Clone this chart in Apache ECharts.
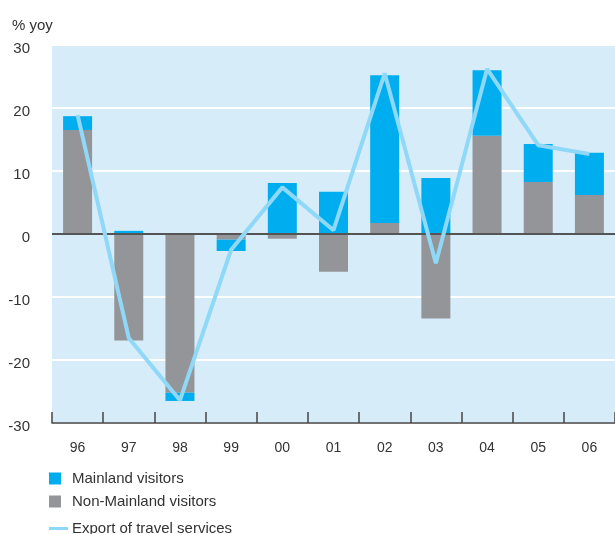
<!DOCTYPE html>
<html>
<head>
<meta charset="utf-8">
<script src="https://cdn.jsdelivr.net/npm/echarts@6/dist/echarts.min.js"></script>
<style>
  html, body { margin: 0; padding: 0; background: #fff; }
  #chart { width: 615px; height: 534px; }
</style>
</head>
<body>
<div id="chart"></div>
<script>
  // values
  const years = ['96', '97', '98', '99', '00', '01', '02', '03', '04', '05', '06']
  const nonMainland = [16.5, -16.9, -25.2, -0.9, -0.75, -6.0, 1.75, -13.4, 15.6, 8.25, 6.2]
  const mainland = [2.2, 0.5, -1.3, -1.8, 8.1, 6.7, 23.45, 8.9, 10.4, 6.05, 6.7]
  const travelExport = [18.9, -16.5, -26.4, -2.5, 7.4, 0.6, 25.5, -4.65, 26.2, 14.1, 12.7]
  const yTicks = [-30, -20, -10, 0, 10, 20, 30]

  const font = 'Liberation Sans, Arial, sans-serif'
  const chart = echarts.init(document.getElementById('chart'))

  const option = {
    backgroundColor: '#ffffff',
    animation: false,
    textStyle: { fontFamily: font },
    grid: {
      left: 52,
      right: 0,
      top: 45,
      bottom: 111,
      show: true,
      backgroundColor: '#d6edf9',
      borderWidth: 0
    },
    title: {
      text: '% yoy',
      left: 7,
      top: 13,
      textStyle: { fontFamily: font, fontSize: 15, fontWeight: 'normal', color: '#333' }
    },
    legend: [{
      orient: 'vertical',
      left: 44,
      top: 466,
      itemWidth: 12,
      itemHeight: 12,
      itemGap: 8,
      icon: 'rect',
      textStyle: { fontFamily: font, fontSize: 15, color: '#333', padding: [0, 0, 0, 6] },
      data: ['Mainland visitors', 'Non-Mainland visitors']
    }, {
      left: 44,
      top: 516,
      itemWidth: 19,
      itemHeight: 3,
      icon: 'rect',
      textStyle: { fontFamily: font, fontSize: 15, color: '#333', padding: [0, 0, 0, -1] },
      data: ['Export of travel services']
    }],
    xAxis: {
      type: 'category',
      data: years,
      position: 'bottom',
      z: 10,
      axisLine: { show: true, onZero: false, lineStyle: { color: '#444', width: 1.5 } },
      axisTick: { show: true, inside: true, length: 11, interval: 0, lineStyle: { color: '#444', width: 1.5 } },
      axisLabel: { fontFamily: font, fontSize: 14, color: '#333', margin: 18 },
      splitLine: { show: false }
    },
    yAxis: {
      type: 'value',
      min: yTicks[0],
      max: yTicks[yTicks.length - 1],
      interval: 10,
      axisLine: { show: false },
      axisTick: { show: false },
      axisLabel: { fontFamily: font, fontSize: 15, color: '#333', margin: 22, verticalAlign: 'top', lineHeight: 7 },
      splitLine: { lineStyle: { color: '#ffffff', width: 2 } }
    },
    series: [{
      name: 'Non-Mainland visitors',
      type: 'bar',
      stack: 'visitors',
      barWidth: 29,
      itemStyle: { color: '#939598' },
      data: nonMainland
    }, {
      name: 'Mainland visitors',
      type: 'bar',
      stack: 'visitors',
      barWidth: 29,
      itemStyle: { color: '#00aeef' },
      data: mainland,
      markLine: {
        silent: true,
        symbol: 'none',
        label: { show: false },
        lineStyle: { color: '#555', width: 2, type: 'solid' },
        data: [{ yAxis: 0 }]
      }
    }, {
      name: 'Export of travel services',
      type: 'line',
      symbol: 'none',
      z: 5,
      lineStyle: { color: '#8fd8f8', width: 4 },
      itemStyle: { color: '#8fd8f8' },
      data: travelExport
    }]
  }

  chart.setOption(option)
</script>
</body>
</html>
